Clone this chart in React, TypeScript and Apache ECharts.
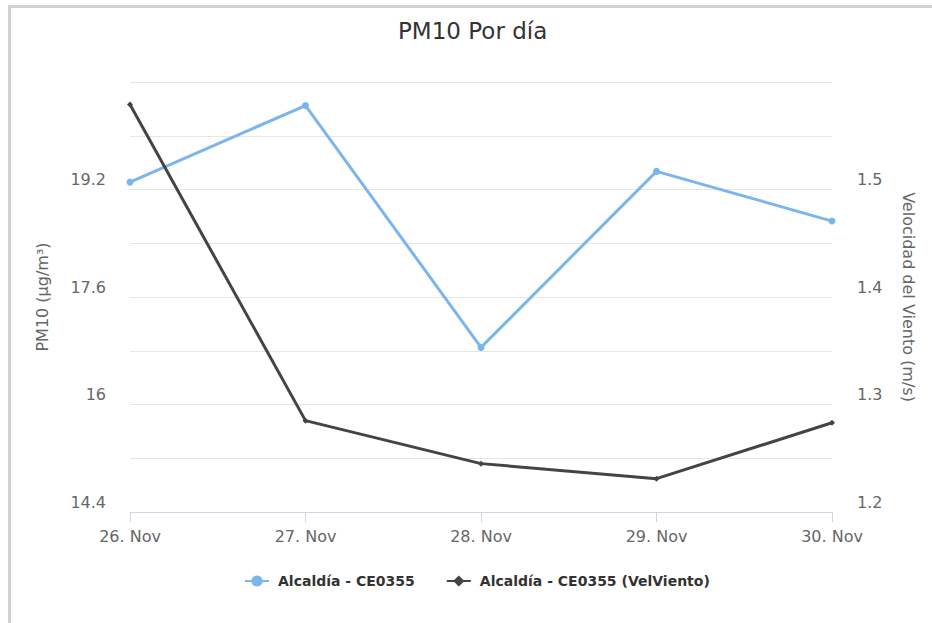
import React, { useEffect, useRef } from "react";
import * as echarts from "echarts";

const categories = ["26. Nov", "27. Nov", "28. Nov", "29. Nov", "30. Nov"];
const pm10Values = [19.31, 20.45, 16.85, 19.47, 18.73];
const windValues = [1.579, 1.285, 1.245, 1.231, 1.283];
const seriesNames = ["Alcaldía - CE0355", "Alcaldía - CE0355 (VelViento)"];
const titleText = "PM10 Por día";
const leftAxisName = "PM10 (µg/m³)";
const rightAxisName = "Velocidad del Viento (m/s)";

const FONT = "'DejaVu Sans', sans-serif";

export default function App() {
  const ref = useRef<HTMLDivElement>(null);
  useEffect(() => {
    if (!ref.current) return;
    const chart = echarts.init(ref.current, undefined, { renderer: "svg" });
    chart.setOption({
      animation: false,
      backgroundColor: "transparent",
      textStyle: { fontFamily: FONT },
      title: {
        text: titleText,
        left: 398,
        top: 19,
        padding: 0,
        textStyle: { fontFamily: FONT, fontSize: 23, fontWeight: "normal", color: "#333333" },
      },
      legend: {
        left: 244,
        top: 574,
        itemWidth: 24,
        itemHeight: 14,
        itemGap: 31,
        padding: 0,
        textStyle: { fontFamily: FONT, fontSize: 14, fontWeight: "bold", color: "#333333", padding: [0, 0, 0, 4] },
        data: seriesNames,
      },
      grid: { left: 130, right: 100, top: 82, bottom: 111 },
      xAxis: {
        type: "category",
        data: categories,
        boundaryGap: false,
        axisLine: { lineStyle: { color: "#ccd6eb", width: 1 } },
        axisTick: { show: true, length: 10, lineStyle: { color: "#ccd6eb" }, alignWithLabel: true },
        axisLabel: { fontFamily: FONT, fontSize: 16, color: "#666666", margin: 16 },
        splitLine: { show: false },
      },
      yAxis: [
        {
          type: "value",
          min: 14.4,
          max: 20.8,
          interval: 0.8,
          name: leftAxisName,
          nameLocation: "middle",
          nameGap: 80,
          nameTextStyle: { fontFamily: FONT, fontSize: 16, color: "#666666" },
          axisLine: { show: false },
          axisTick: { show: false },
          splitLine: { show: true, lineStyle: { color: "#e6e6e6", width: 1 } },
          axisLabel: {
            fontFamily: FONT,
            fontSize: 16,
            color: "#666666",
            margin: 24,
            verticalAlign: "bottom",
            padding: [0, 0, 2, 0],
            showMaxLabel: false,
            formatter: (v: number) => {
              const k = Math.round((v - 14.4) / 0.8);
              if (k % 2 !== 0 || k >= 8) return "";
              return String(Math.round(v * 10) / 10);
            },
          },
        },
        {
          type: "value",
          min: 1.2,
          max: 1.6,
          interval: 0.05,
          position: "right",
          name: rightAxisName,
          nameLocation: "middle",
          nameGap: 68,
          nameRotate: -90,
          nameTextStyle: { fontFamily: FONT, fontSize: 16, color: "#666666" },
          axisLine: { show: false },
          axisTick: { show: false },
          splitLine: { show: false },
          axisLabel: {
            fontFamily: FONT,
            fontSize: 16,
            color: "#666666",
            margin: 25,
            verticalAlign: "bottom",
            padding: [0, 0, 2, 0],
            showMaxLabel: false,
            formatter: (v: number) => {
              const k = Math.round((v - 1.2) / 0.05);
              if (k % 2 !== 0 || k >= 8) return "";
              return (Math.round(v * 10) / 10).toFixed(1);
            },
          },
        },
      ],
      series: [
        {
          name: seriesNames[0],
          type: "line",
          yAxisIndex: 0,
          data: pm10Values,
          symbol: "circle",
          symbolSize: 7,
          lineStyle: { color: "#7cb5ec", width: 3 },
          itemStyle: { color: "#7cb5ec" },
          z: 2,
        },
        {
          name: seriesNames[1],
          type: "line",
          yAxisIndex: 1,
          data: windValues,
          symbol: "diamond",
          symbolSize: 6,
          lineStyle: { color: "#434348", width: 3 },
          itemStyle: { color: "#434348" },
          z: 3,
        },
      ],
    });
    return () => chart.dispose();
  }, []);

  return (
    <div style={{ position: "fixed", left: 0, top: 0, width: 932, height: 623, background: "#ffffff", overflow: "hidden" }}>
      <div
        style={{
          position: "absolute",
          left: 8,
          top: 5,
          width: 960,
          height: 660,
          borderTop: "3px solid #d2d2d2",
          borderLeft: "3px solid #d2d2d2",
          boxSizing: "border-box",
        }}
      />
      <div ref={ref} style={{ position: "absolute", left: 0, top: 0, width: 932, height: 623 }} />
    </div>
  );
}
